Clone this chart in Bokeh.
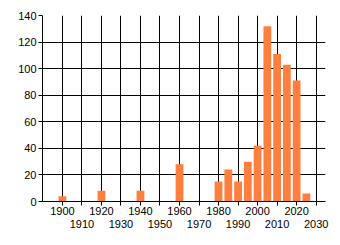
from bokeh.plotting import figure
from bokeh.models import LinearAxis, FixedTicker, Range1d, ColumnDataSource, Grid
from bokeh.embed import file_html
from bokeh.resources import INLINE

years = [1900, 1920, 1940, 1960, 1980, 1985, 1990, 1995, 2000, 2005, 2010, 2015, 2020, 2025]
counts = [4, 8, 8, 28, 15, 24, 15, 30, 42, 132, 111, 103, 91, 6]
x_ticks = list(range(1900, 2031, 10))
y_ticks = list(range(0, 141, 20))
row1_labels = {t: (str(t) if (t // 10) % 2 == 0 else "") for t in x_ticks}
row2_ticks = [t for t in x_ticks if (t // 10) % 2 == 1]

FONT = "Liberation Sans"

p = figure(width=340, height=245, output_backend="svg", toolbar_location=None,
           x_range=Range1d(1889.8, 2034.8), y_range=Range1d(0, 140),
           x_axis_type=None, min_border_left=42, min_border_right=15,
           min_border_top=15, min_border_bottom=44)
p.outline_line_color = None
p.background_fill_color = "white"
p.border_fill_color = "white"

src = ColumnDataSource(dict(x=years, top=counts))
p.vbar(x="x", top="top", width=4, source=src, fill_color="#FF7F3F", line_color=None)

# primary x axis (row 1 labels)
ax1 = LinearAxis(ticker=FixedTicker(ticks=x_ticks))
ax1.major_label_overrides = row1_labels
ax1.major_tick_out = 4
ax1.major_tick_in = 0
ax1.minor_tick_line_color = None
ax1.major_label_standoff = 1
ax1.axis_line_color = "black"
ax1.major_tick_line_color = "black"
ax1.major_label_text_font = FONT
ax1.major_label_text_font_size = "11px"
ax1.major_label_text_color = "black"
p.add_layout(ax1, "below")

# second row labels
ax2 = LinearAxis(ticker=FixedTicker(ticks=row2_ticks))
ax2.axis_line_color = None
ax2.major_tick_line_color = None
ax2.minor_tick_line_color = None
ax2.major_tick_out = 0
ax2.major_tick_in = 0
ax2.major_label_standoff = 2
ax2.major_label_text_font = FONT
ax2.major_label_text_font_size = "11px"
ax2.major_label_text_color = "black"
p.add_layout(ax2, "below")

p.yaxis.ticker = FixedTicker(ticks=y_ticks)
p.yaxis.major_tick_out = 4
p.yaxis.major_tick_in = 0
p.yaxis.minor_tick_line_color = None
p.yaxis.major_label_standoff = 2
p.yaxis.axis_line_color = "black"
p.yaxis.major_tick_line_color = "black"
p.yaxis.major_label_text_font = FONT
p.yaxis.major_label_text_font_size = "11px"
p.yaxis.major_label_text_color = "black"

xgrid = Grid(dimension=0, ticker=FixedTicker(ticks=x_ticks))
p.add_layout(xgrid)
p.ygrid.ticker = FixedTicker(ticks=y_ticks)
for g in (xgrid, p.ygrid[0]):
    g.grid_line_color = "black"
    g.grid_line_width = 1
    g.grid_line_alpha = 1.0
    g.level = "underlay"

open("out.html", "w").write(file_html(p, INLINE))
